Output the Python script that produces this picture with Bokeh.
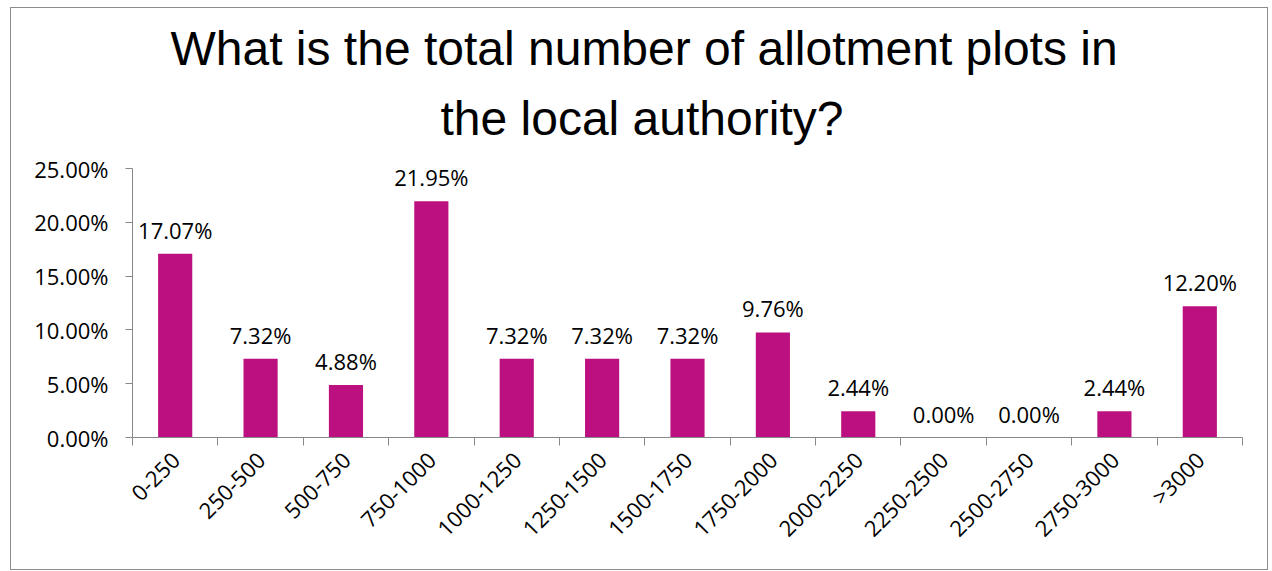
import math
from bokeh.plotting import figure
from bokeh.models import FixedTicker, NumeralTickFormatter, ColumnDataSource, Range1d, Title, LabelSet
from bokeh.core.properties import value
from bokeh.embed import file_html
from bokeh.resources import INLINE

categories = ["0-250", "250-500", "500-750", "750-1000", "1000-1250", "1250-1500",
              "1500-1750", "1750-2000", "2000-2250", "2250-2500", "2500-2750",
              "2750-3000", ">3000"]
values = [17.07, 7.32, 4.88, 21.95, 7.32, 7.32, 7.32, 9.76, 2.44, 0.00, 0.00, 2.44, 12.20]
y_ticks = [0.0, 0.05, 0.10, 0.15, 0.20, 0.25]
title_lines = ["What is the total number of allotment plots in", "the local authority?"]

BAR = "#BC1080"
AXIS = "#888888"
FONT = "Open Sans"
TFONT = "Liberation Sans"
FS = "22px"

n = len(categories)
centers = [i + 0.5 for i in range(n)]
fractions = [v / 100.0 for v in values]
labels = ["%.2f%%" % v for v in values]

src = ColumnDataSource(dict(x=centers, top=fractions, label=labels))

p = figure(width=1258, height=563, output_backend="svg", toolbar_location=None,
           x_range=Range1d(0, n), y_range=Range1d(0, 0.25),
           min_border_left=121, min_border_right=27, min_border_top=0, min_border_bottom=134)
p.outline_line_color = None
p.styles = {"border": "1px solid #8c8c8c", "margin": "7px 0px 0px 10px"}
p.xgrid.visible = False
p.ygrid.visible = False
p.background_fill_color = "white"
p.border_fill_color = "white"
p.title = None

# titles: the one added first sits closest to the plot
p.add_layout(Title(text=title_lines[1], align="left", text_font=TFONT, text_font_size="48px",
                   text_font_style="normal", text_color="#000000", standoff=47, offset=308), "above")
p.add_layout(Title(text=title_lines[0], align="left", text_font=TFONT, text_font_size="48px",
                   text_font_style="normal", text_color="#000000", standoff=-16, offset=38), "above")
p.add_layout(Title(text=" ", align="left", text_font=TFONT, text_font_size="15px",
                   standoff=0), "above")

p.vbar(x="x", top="top", width=0.4, source=src, fill_color=BAR, line_color=None)

lbl = LabelSet(x="x", y="top", text="label", source=src, text_align="center",
               text_baseline="bottom", y_offset=9, text_font=value(FONT),
               text_font_size=value(FS), text_color="#000000")
p.add_layout(lbl)

# y axis
yax = p.yaxis[0]
yax.ticker = FixedTicker(ticks=y_ticks)
yax.formatter = NumeralTickFormatter(format="0.00%")
yax.axis_line_color = AXIS
yax.major_tick_line_color = AXIS
yax.major_tick_in = 0
yax.major_tick_out = 7
yax.minor_tick_line_color = None
yax.major_label_text_font = FONT
yax.major_label_text_font_size = FS
yax.major_label_text_color = "#000000"
yax.major_label_standoff = 17

# x axis: labels at centers, ticks at boundaries (minor)
xax = p.xaxis[0]
xax.ticker = FixedTicker(ticks=centers, minor_ticks=list(range(n + 1)))
xax.major_label_overrides = {c: cat for c, cat in zip(centers, categories)}
xax.axis_line_color = AXIS
xax.major_tick_line_color = None
xax.minor_tick_line_color = AXIS
xax.minor_tick_in = 0
xax.minor_tick_out = 8
xax.major_label_orientation = math.pi / 4
xax.major_label_text_font = FONT
xax.major_label_text_font_size = FS
xax.major_label_text_color = "#000000"
xax.major_label_standoff = 10

open("out.html", "w").write(file_html(p, INLINE))
